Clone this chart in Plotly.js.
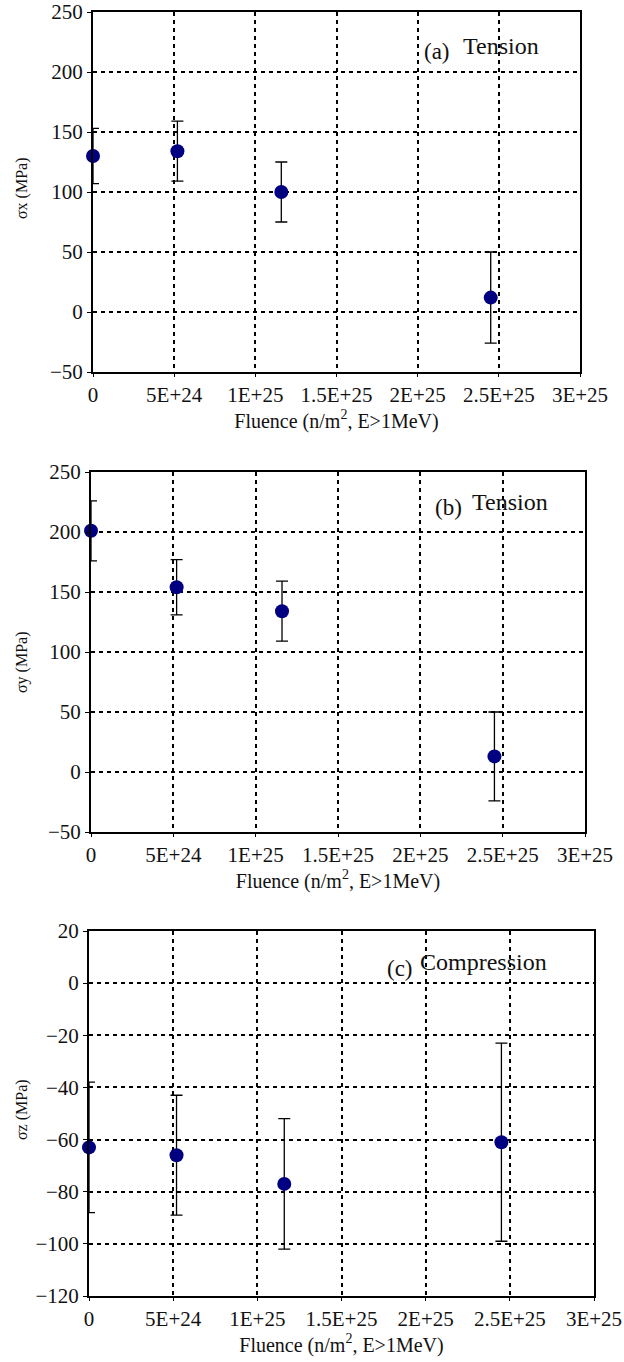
<!DOCTYPE html>
<html>
<head>
<meta charset="utf-8">
<script src="https://cdn.plot.ly/plotly-3.0.1.min.js"></script>
<style>html,body{margin:0;padding:0;background:#fff;}#chart{width:624px;height:1362px;}</style>
</head>
<body>
<div id="chart"></div>
<script>
// ---- data ----
const fluence = [0, 5.2e24, 1.16e25, 2.45e25];
const sigmaX = [130, 134, 100, 12];
const errX = [23, 25, 25, 38];
const sigmaY = [201, 154, 134, 13];
const errY = [25, 23, 25, 37];
const sigmaZ = [-63, -66, -77, -61];
const errZ = [25, 23, 25, 38];
const xTickVals = [0, 5e24, 1e25, 1.5e25, 2e25, 2.5e25, 3e25];
const xTickText = ["0", "5E+24", "1E+25", "1.5E+25", "2E+25", "2.5E+25", "3E+25"];
const panelLabels = ["(a)", "(b)", "(c)"];
const panelModes = ["Tension", "Tension", "Compression"];
const yTitles = ["σx (MPa)", "σy (MPa)", "σz (MPa)"];
const xTitle = "Fluence (n/m<sup>2</sup>, E>1MeV)";

const W = 624, H = 1362;
const px = x => x / W;
const py = y => 1 - y / H;
const FONT = "'Liberation Serif', serif";

function trace(y, e, n) {
  return {
    x: fluence, y: y, type: "scatter", mode: "markers",
    xaxis: n === 1 ? "x" : "x" + n, yaxis: n === 1 ? "y" : "y" + n,
    marker: {color: "#000080", size: 14},
    error_y: {type: "data", array: e, visible: true, color: "#000", thickness: 1.3, width: 6},
    cliponaxis: false, showlegend: false, hoverinfo: "x+y"
  };
}

function xax(domain, anchor) {
  return {
    domain: domain, anchor: anchor, range: [0, 3e25],
    tickmode: "array", tickvals: xTickVals, ticktext: xTickText,
    showline: true, linecolor: "#000", linewidth: 2, mirror: true,
    showgrid: true, gridcolor: "#000", gridwidth: 2, griddash: "4px,4px",
    zeroline: false, ticks: "outside", ticklen: 3, tickcolor: "#000",
    tickfont: {family: FONT, size: 21, color: "#111"},
    title: {text: xTitle, font: {family: FONT, size: 20, color: "#111"}, standoff: 6},
    automargin: false
  };
}
function yax(domain, anchor, range, dtick) {
  return {
    domain: domain, anchor: anchor, range: range, dtick: dtick, tick0: 0,
    showline: true, linecolor: "#000", linewidth: 2, mirror: true,
    showgrid: true, gridcolor: "#000", gridwidth: 2, griddash: "4px,4px",
    zeroline: false, ticks: "outside", ticklen: 4, tickcolor: "#000",
    tickfont: {family: FONT, size: 21, color: "#111"},
    automargin: false
  };
}

const data = [trace(sigmaX, errX, 1), trace(sigmaY, errY, 2), trace(sigmaZ, errZ, 3)];

const annPos = [
  {lx: 422, ly: 52, tx: 461, ty: 46, yt: 188},
  {lx: 433, ly: 507, tx: 470, ty: 502, yt: 662},
  {lx: 385, ly: 968, tx: 418, ty: 962, yt: 1110}
];
const annotations = [];
annPos.forEach((p, i) => {
  annotations.push({xref: "paper", yref: "paper", x: px(p.lx), y: py(p.ly), xanchor: "left", yanchor: "middle",
    text: panelLabels[i], showarrow: false, font: {family: FONT, size: 23, color: "#111"}});
  annotations.push({xref: "paper", yref: "paper", x: px(p.tx), y: py(p.ty), xanchor: "left", yanchor: "middle",
    text: panelModes[i], showarrow: false, font: {family: FONT, size: 24, color: "#111"}});
  annotations.push({xref: "paper", yref: "paper", x: px(22), y: py(p.yt), xanchor: "center", yanchor: "middle",
    textangle: -90, text: yTitles[i], showarrow: false, font: {family: FONT, size: 16, color: "#111"}});
});

const layout = {
  width: W, height: H,
  margin: {l: 0, r: 0, t: 0, b: 0},
  paper_bgcolor: "#fff", plot_bgcolor: "#fff",
  font: {family: FONT, color: "#111"},
  showlegend: false,
  xaxis: xax([px(93), px(580)], "y"),
  yaxis: yax([py(372), py(12)], "x", [-50, 250], 50),
  xaxis2: xax([px(91), px(585)], "y2"),
  yaxis2: yax([py(832), py(472)], "x2", [-50, 250], 50),
  xaxis3: xax([px(89), px(594)], "y3"),
  yaxis3: yax([py(1296), py(931)], "x3", [-120, 20], 20),
  annotations: annotations
};

Plotly.newPlot("chart", data, layout, {displayModeBar: false, staticPlot: true});
</script>
</body>
</html>
